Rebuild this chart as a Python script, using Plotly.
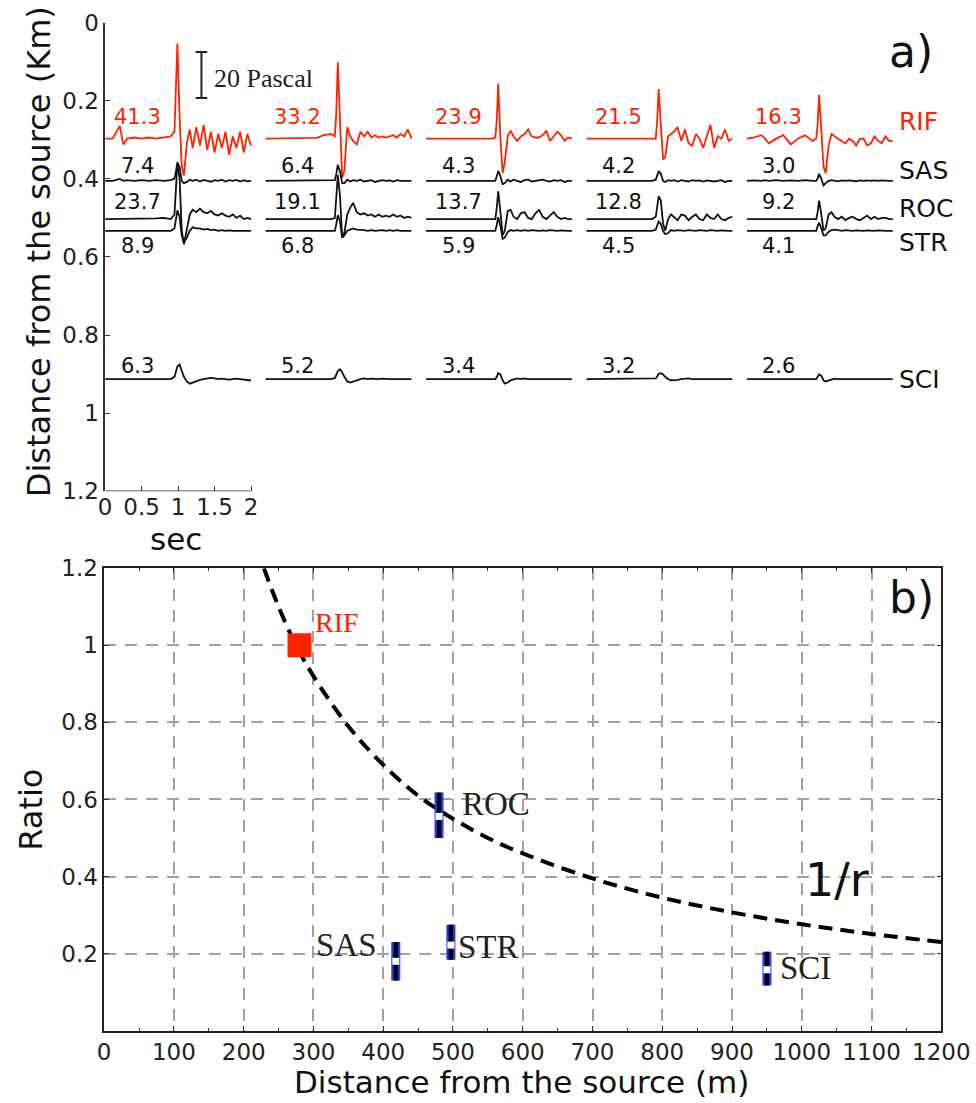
import plotly.graph_objects as go

# ---------------- panel a) data ----------------
# common time samples (s) inside each 2-s window
T = [0.00, 0.10, 0.20, 0.25, 0.30, 0.40, 0.50, 0.60, 0.70, 0.80, 0.90, 0.95, 0.97, 0.99,
     1.02, 1.05, 1.08, 1.12, 1.16, 1.20, 1.25, 1.30, 1.35, 1.40, 1.45, 1.50, 1.55, 1.60,
     1.65, 1.70, 1.75, 1.80, 1.85, 1.90, 1.95, 2.00]

# pressure (Pa), one list per event (5 events)
RIF_WAVES = [
    [0, 0, 5.5, -2.5, 0, 0.5, 0, 0.5, 0, 0.5, 1, 3, 20, 41.3, 10, -12, -16, -2, 4, -4, 5, -3, 6, -5, 3, -6, 2, -4, 3, -7, 1, -4, 3, -6, 2, -3],
    [0, 0, 0, 0, 0, 0, 0, 0, 0.3, 1.5, 2, 1, 12, 33.2, 5, -17, -14, 5, 1, -1, -2.5, 3, 1, 3, 0.5, 1.5, 0.5, 1, 0.5, 1, 1.5, 0.5, 2, 1, 4, 0],
    [0, 0, 0, 0, 0, 0, 0, 0, 0, 0, 0, 0.5, 8, 23.9, 0, -15, -10, 1, 3.5, 1, -1, 1, 2, 4, 1, 0.5, 0.5, 1.5, 3.5, -1, 1, 3, 1.5, -1, 0.5, 0],
    [0, 0, 0, 0, 0, 0, 0, 0, 0, 0, 0, 0, 8, 21.5, 6, -9, -8, 1, 2, 3, 5, -1, 4, -2, -3, 2, 0, -4, 1, 6, -4, 1, 0, 4, -1, 0],
    [0, 0.5, 1.5, 0, -2, 0, 1.5, -2.5, 0, 1.5, -1, 0, 6, 19, 4, -12, -15, -3, 2, 1, 0, -1, -2, 0, -1, -3, 0, 0, -3, -2, 1, -1, -2, 1, -1, -1],
]
SAS_WAVES = [
    [0, 0, 0.8, 0, 0.3, 0, 0.3, 0, 0.3, 0, 0.3, 1, 4, 8, 6, 0, -1, -0.5, 0.5, 0, 0.5, -0.3, 0.4, 0, -0.4, 0.3, 0, 0.5, -0.3, 0.3, 0, 0.4, -0.3, 0.3, -0.2, 0],
    [0, 0, 0, 0, 0, 0, 0, 0, 0, 0, 0, 0.3, 3, 7, 4, -1, -1, 0.5, -0.3, 0.3, 0, 0.5, -0.3, 0, 0.3, -0.5, 0, 0.3, 0, 0.2, -0.3, 0.3, 0, 0, 0.2, 0],
    [0, 0, 0, 0, 0, 0, 0, 0, 0, 0, 0, 0, 2, 4.3, 2, -1.5, -1, 0.5, -0.3, 0.5, 0, -0.5, 0.3, 0.5, -0.3, 0, 0.3, 0.5, 0, -0.3, 0.3, 0, 0.3, -0.5, 0, 0],
    [0, 0, 0, 0, 0, 0, 0, 0, 0, 0, 0, 0.5, 2.5, 4.2, 3, 0, -0.5, 0.3, 0, 0.3, -0.3, 0.3, 0, -0.3, 0.3, 0, 0.2, -0.3, 0.2, 0, -0.3, 0, 0.3, -0.5, 0, 0],
    [0, 0.2, 0, 0.3, 0, 0.3, 0, 0.2, 0, 0.3, 0, 0, 1, 3, 1, -2, -1, 0, 0.3, 0, -0.2, 0.2, 0, 0.2, 0, -0.2, 0.2, 0, 0.2, 0, 0.2, 0, 0.2, 0, 0, 0],
]
ROC_WAVES = [
    [0, 0, 0.3, 0, 0, 0, 0, 0, 0.3, 0.5, 0, 2, 15, 24, 18, -5, -11, -4, 2, 4, 3, 4.5, 3, 2.5, 3.5, 2, 1.5, 2.5, 1.5, 1, 2, 0.5, 1.5, 0, 0.5, 0],
    [0, 0, 0, 0, 0, 0, 0, 0, 0, 0, 0, 0.5, 8, 19.1, 10, -8, -6, 2, 5, 7, 3, 2, 2.5, 1.5, 2, 1, 2, 1, 1.5, 1, 2, 1, 1.5, 0.5, 1, 0.5],
    [0, 0, 0, 0, 0, 0, 0, 0, 0, 0, 0, 0, 5, 12, 3, -7, -5, 3.5, 4, 1, 0, 2.5, 3, 0.5, 0, 2.5, 4, 1, 0, 1.5, 3, 1, 0, 0.5, 0, 0],
    [0, 0, 0, 0, 0, 0, 0, 0, 0, 0, 0, 1, 6, 10, 8, -2, -5, 0, 2, 1, -0.5, 2, 1.5, -0.5, 1, 2, 0, -0.5, 2, 0.5, 0, 2, 0, -0.5, 0.5, 1],
    [0, 0, 0, 0, 0, 0, 0, 0, 0, 0, 0, 0, 3, 8, 2, -5, -4, 2, 3, 1, 0, 1, -0.5, 0.5, 1, 0, -0.5, 0.5, 1.5, 0, 1, 0, 0.5, 0.5, 0, 0],
]
STR_WAVES = [
    [0, 0, 0, 0, 0, 0, 0, 0, 0, 0, 0, 1, 5, 8.9, 6, -2, -5, -3, 0, 1.5, 1, 1, 0.5, 0.8, 0.3, 0.5, 0, 0.3, 0, 0.2, 0, 0, -0.2, 0, 0, 0],
    [0, 0, 0, 0, 0, 0, 0, 0, 0, 0, 0, 0, 3, 6.8, 4, -3, -2, 0, 0.5, 1, 0.5, 0.5, 0.3, 0, 0.3, 0, 0.3, 0.3, 0, 0.3, 0, 0.3, 0, 0, 0.2, 0],
    [0, 0, 0, 0, 0, 0, 0, 0, 0, 0, 0, 0, 2.5, 5.9, 2, -3.5, -3, -0.5, 0.3, 0, 0.3, 0, 0.3, 0, 0.3, 0, 0, 0.2, 0, 0.3, 0, 0, 0.2, 0, 0, 0],
    [0, 0, 0, 0, 0, 0, 0, 0, 0, 0, 0, 0.5, 2.5, 4, 3, 0, -1.5, -1, 0.3, 0, 0.3, 0, 0, 0.3, 0, 0, 0.3, 0, 0, 0.3, 0, 0, 0.2, 0, 0, 0],
    [0, 0, 0, 0, 0, 0, 0, 0, 0, 0, 0, 0, 2, 3.5, 1, -2, -2, -0.5, 0.3, 0.5, 0.3, 0, 0.3, 0, 0, 0.2, 0, 0, 0.2, 0, 0, 0.2, 0, 0, 0, 0],
]
SCI_WAVES = [
    [0, 0, 0, 0, 0, 0, 0, 0, 0, 0, 0, 1, 3, 5.5, 6.3, 4, 1, -1, -2, -1.5, -0.8, -0.3, 0, 0.3, 0.5, 0.3, 0, 0.2, 0, -0.2, 0, 0.2, 0, -0.3, -0.5, -0.6],
    [0, 0, 0, 0, 0, 0, 0, 0, 0, 0, 0, 0.5, 2, 3.5, 4.3, 3, 1, -1, -1.5, -1, -0.5, 0, 0.3, 0, 0.2, 0, 0, 0.2, 0, 0, 0, 0, 0, 0, 0, 0],
    [0, 0, 0, 0, 0, 0, 0, 0, 0, 0, 0, 0, 1, 2.6, 2, -0.5, -2, -1.5, -0.5, 0, 0.3, 0, 0.3, 0, 0, 0, 0.2, 0, 0, 0, 0, 0, 0, 0, 0, 0],
    [0, 0, 0, 0, 0, 0, 0, 0, 0, 0, 0, 0.3, 1.2, 2.3, 2.6, 2, 1, 0, -0.5, -0.5, -0.3, 0, 0.3, 0.3, 0, 0, 0, 0.2, 0, 0, 0, 0, 0, 0, 0, 0],
    [0, 0, 0, 0, 0, 0, 0, 0, 0, 0, 0, 0, 1, 2, 1.5, -0.5, -1, -0.5, 0, 0.2, 0, 0, 0, 0.2, 0, 0, 0, 0, 0, 0, 0, 0, 0, 0, 0, 0],
]

# peak amplitude labels (Pa)
RIF_PEAK = ["41.3", "33.2", "23.9", "21.5", "16.3"]
SAS_PEAK = ["7.4", "6.4", "4.3", "4.2", "3.0"]
ROC_PEAK = ["23.7", "19.1", "13.7", "12.8", "9.2"]
STR_PEAK = ["8.9", "6.8", "5.9", "4.5", "4.1"]
SCI_PEAK = ["6.3", "5.2", "3.4", "3.2", "2.6"]

STATIONS_TOP = ["RIF", "SAS", "ROC", "STR", "SCI"]
BASELINE_KM = [0.297, 0.405, 0.503, 0.533, 0.913]
SCALE_PA = 20

# ---------------- panel b) data ----------------
B_STATION = ["SAS", "ROC", "STR", "SCI"]
B_DIST = [418, 480, 497, 950]
B_RATIO = [0.18, 0.556, 0.222, 0.158]
B_LO = [0.13, 0.50, 0.184, 0.117]
B_HI = [0.23, 0.618, 0.275, 0.205]
RIF_DIST = 280
RIF_RATIO = 1.0
CURVE_R = [229, 250, 275, 300, 350, 400, 450, 500, 550, 600, 700, 800, 900, 1000, 1100, 1200]
CURVE_RATIO = [1.20, 1.10, 1.00, 0.92, 0.79, 0.69, 0.61, 0.55, 0.50, 0.46, 0.395, 0.345, 0.307, 0.276, 0.251, 0.23]

# ---------------- styling constants ----------------
RED = "#ff2200"
BLUE = "#1f3dff"
INK = "#111111"
SANS = "DejaVu Sans"
SERIF = "Liberation Serif"
KM_PER_PA = 0.0059
COL_OFF = [0, 2.2, 4.4, 6.6, 8.8]
PAGE_MARGIN = 8            # default body margin of the html page
FW, FH = 1000, 1103
# measured mapping page -> photographed pixels
SX, OX = 0.965, -2.0
SY, OY = 0.9755, 6.5


def PX(x):
    return ((x - OX) / SX - PAGE_MARGIN) / FW


def PY(y):
    return 1 - ((y - OY) / SY - PAGE_MARGIN) / FH


fig = go.Figure()

waves_all = [RIF_WAVES, SAS_WAVES, ROC_WAVES, STR_WAVES, SCI_WAVES]
peaks_all = [RIF_PEAK, SAS_PEAK, ROC_PEAK, STR_PEAK, SCI_PEAK]
colors = [RED, INK, INK, INK, INK]
num_dy = [-0.055, -0.038, -0.044, 0.038, -0.034]
name_dy = [-0.043, -0.026, -0.026, 0.029, 0.0]

annotations = []
for st, waves, base, col, peaks, ndy, sdy in zip(STATIONS_TOP, waves_all, BASELINE_KM, colors,
                                                  peaks_all, num_dy, name_dy):
    xs, ys = [], []
    for c, w in enumerate(waves):
        xs += [COL_OFF[c] + t for t in T] + [None]
        ys += [base - p * KM_PER_PA for p in w] + [None]
        annotations.append(dict(x=COL_OFF[c] + 0.44, y=base + ndy, xref="x", yref="y",
                                text=peaks[c], showarrow=False,
                                font=dict(family=SANS, size=21, color=col)))
    fig.add_trace(go.Scatter(x=xs, y=ys, mode="lines", line=dict(color=col, width=1.8),
                             xaxis="x", yaxis="y", hoverinfo="skip", showlegend=False))
    annotations.append(dict(x=10.86, y=base + sdy, xref="x", yref="y", text=st,
                            showarrow=False, xanchor="left",
                            font=dict(family=SANS, size=25, color=col)))

# 20 Pascal scale bar
bar_x, bar_c, cap = 1.32, 0.134, 0.08
top_y = bar_c - SCALE_PA / 2 * KM_PER_PA
bot_y = bar_c + SCALE_PA / 2 * KM_PER_PA
fig.add_trace(go.Scatter(
    x=[bar_x, bar_x, None, bar_x - cap, bar_x + cap, None, bar_x - cap, bar_x + cap],
    y=[top_y, bot_y, None, top_y, top_y, None, bot_y, bot_y],
    mode="lines", line=dict(color="#222", width=2), xaxis="x", yaxis="y",
    hoverinfo="skip", showlegend=False))
annotations.append(dict(x=1.47, y=0.144, xref="x", yref="y", text=f"{SCALE_PA} Pascal",
                        showarrow=False, xanchor="left",
                        font=dict(family=SERIF, size=26, color="#222")))

# ---------------- panel b traces ----------------
fig.add_trace(go.Scatter(x=CURVE_R, y=CURVE_RATIO, mode="lines",
                         line=dict(color="black", width=4, dash="14px,8px", shape="spline"),
                         xaxis="x2", yaxis="y2", hoverinfo="skip", showlegend=False))
err_p = [h - m for h, m in zip(B_HI, B_RATIO)]
err_m = [m - l for m, l in zip(B_RATIO, B_LO)]
fig.add_trace(go.Scatter(x=B_DIST, y=B_RATIO, mode="markers",
                         marker=dict(size=1, color="rgba(0,0,0,0)"),
                         error_y=dict(type="data", array=err_p, arrayminus=err_m,
                                      color=BLUE, thickness=9, width=0),
                         xaxis="x2", yaxis="y2", hoverinfo="skip", showlegend=False))
fig.add_trace(go.Scatter(x=B_DIST, y=B_RATIO, mode="markers",
                         marker=dict(size=7, symbol="square", color="white"),
                         error_y=dict(type="data", array=err_p, arrayminus=err_m,
                                      color="black", thickness=4.5, width=0),
                         xaxis="x2", yaxis="y2", hoverinfo="skip", showlegend=False))
fig.add_trace(go.Scatter(x=[RIF_DIST], y=[RIF_RATIO], mode="markers",
                         marker=dict(size=24, symbol="square", color=RED),
                         xaxis="x2", yaxis="y2", hoverinfo="skip", showlegend=False))

annotations.append(dict(x=300, y=1.06, xref="x2", yref="y2", text="RIF", showarrow=False,
                        xanchor="left", font=dict(family=SERIF, size=28, color=RED)))
label_pos = {"SAS": (394, 0.223, "right"), "ROC": (510, 0.587, "left"),
             "STR": (505, 0.216, "left"), "SCI": (966, 0.163, "left")}
for st in B_STATION:
    lx, ly, anc = label_pos[st]
    annotations.append(dict(x=lx, y=ly, xref="x2", yref="y2", text=st, showarrow=False,
                            xanchor=anc, font=dict(family=SERIF, size=33, color="#222")))
annotations.append(dict(x=1050, y=0.39, xref="x2", yref="y2", text="1/r", showarrow=False,
                        font=dict(family=SANS, size=46, color=INK)))


# titles and panel letters (centre-anchored, positions in photographed pixels)
def label(x, y, text, size, angle=0):
    return dict(x=PX(x), y=PY(y), xref="paper", yref="paper", text=text, textangle=angle,
                xanchor="center", yanchor="middle", showarrow=False,
                font=dict(family=SANS, size=size, color=INK))


annotations += [
    label(38, 253, "Distance from the source (Km)", 32, -90),
    label(175, 540, "sec", 31),
    label(30, 810, "Ratio", 32, -90),
    label(521, 1082, "Distance from the source (m)", 31),
    label(911, 53, "a)", 44),
    label(911, 598, "b)", 44),
]

# top x-axis line only spans 0-2 s
shapes = [dict(type="line", xref="x", yref="y", x0=0, x1=2, y0=1.2, y1=1.2,
               line=dict(color="#333", width=1.5))]

tickfont = dict(family=SANS, size=23, color="#222")
top_yticks = [0, 0.2, 0.4, 0.6, 0.8, 1.0, 1.2]
top_xticks = [0, 0.5, 1, 1.5, 2]
GRID = dict(showgrid=True, gridcolor="#a0a0a0", gridwidth=1.5, griddash="12px,9px")

top_x0, top_x1 = 104, 960
fig.update_layout(
    width=FW, height=FH, margin=dict(l=0, r=0, t=0, b=0),
    paper_bgcolor="white", plot_bgcolor="white", showlegend=False,
    annotations=annotations, shapes=shapes,
    xaxis=dict(domain=[PX(top_x0), min(PX(top_x1), 1.0)],
               range=[0, (min(PX(top_x1), 1.0) - PX(top_x0)) * FW * SX / 73], anchor="y",
               tickvals=top_xticks, ticktext=["0", "0.5", "1", "1.5", "2"],
               ticks="inside", ticklen=5, tickcolor="#333", showline=False,
               showgrid=False, zeroline=False, tickfont=tickfont),
    yaxis=dict(domain=[PY(492), PY(24)], range=[1.2, 0], anchor="x",
               tickvals=top_yticks, ticktext=["0", "0.2", "0.4", "0.6", "0.8", "1", "1.2"],
               ticks="inside", ticklen=5, tickcolor="#333", showline=True, linecolor="#333",
               linewidth=1.5, showgrid=False, zeroline=False, tickfont=tickfont),
    xaxis2=dict(domain=[PX(103), PX(941)], range=[0, 1200], anchor="y2",
                tickvals=list(range(0, 1201, 100)), ticks="inside", ticklen=5, tickcolor="#333",
                showline=True, linecolor="#222", linewidth=1.5, mirror="ticks",
                zeroline=False, tickfont=tickfont, ticklabeloverflow="allow", **GRID,
                minor=dict(dtick=50, ticks="inside", ticklen=3, tickcolor="#333", showgrid=False)),
    yaxis2=dict(domain=[PY(1031), PY(569)], range=[0, 1.2], anchor="x2",
                tickvals=[0.2, 0.4, 0.6, 0.8, 1.0, 1.2],
                ticktext=["0.2", "0.4", "0.6", "0.8", "1", "1.2"],
                ticks="inside", ticklen=5, tickcolor="#333",
                showline=True, linecolor="#222", linewidth=1.5, mirror="ticks",
                zeroline=False, tickfont=tickfont, **GRID),
)

fig.write_html("out.html")
